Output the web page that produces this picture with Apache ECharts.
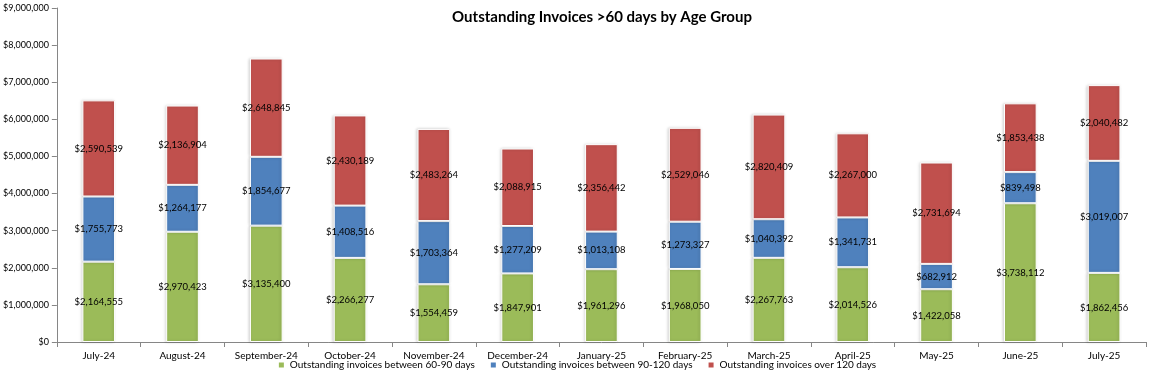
<!DOCTYPE html>
<html lang="en">
<head>
  <meta charset="UTF-8">
  <title>Outstanding Invoices</title>
  <style>
    html, body { margin: 0; padding: 0; background: #fff; }
    #chart { width: 1153px; height: 376px; }
  </style>
</head>
<body>
  <div id="chart"></div>
  <script src="https://cdn.jsdelivr.net/npm/echarts@6/dist/echarts.min.js"></script>
  <script>
    // data
    const months = ['July-24', 'August-24', 'September-24', 'October-24', 'November-24', 'December-24',
      'January-25', 'February-25', 'March-25', 'April-25', 'May-25', 'June-25', 'July-25'];
    const days60to90 = [2164555, 2970423, 3135400, 2266277, 1554459, 1847901, 1961296, 1968050, 2267763, 2014526, 1422058, 3738112, 1862456];
    const days90to120 = [1755773, 1264177, 1854677, 1408516, 1703364, 1277209, 1013108, 1273327, 1040392, 1341731, 682912, 839498, 3019007];
    const over120 = [2590539, 2136904, 2648845, 2430189, 2483264, 2088915, 2356442, 2529046, 2820409, 2267000, 2731694, 1853438, 2040482];

    const FONT = 'Lato, "Noto Sans", sans-serif';

    function money(v) {
      return '$' + Math.round(v).toString().replace(/\B(?=(\d{3})+(?!\d))/g, ',');
    }

    function makeSeries(name, data, color) {
      return {
        name: name,
        type: 'bar',
        stack: 'total',
        barWidth: '39%',
        data: data,
        itemStyle: {
          color: color,
          borderColor: '#ffffff',
          borderWidth: 1,
          shadowColor: 'rgba(0,0,0,0.18)',
          shadowBlur: 3,
          shadowOffsetX: -1
        },
        label: {
          show: true,
          position: 'inside',
          color: '#000',
          fontFamily: FONT,
          fontSize: 9.5,
          formatter: function (p) { return money(p.value); }
        }
      };
    }

    let chart = echarts.init(document.getElementById('chart'));
    let option = {
      animation: false,
      title: {
        text: 'Outstanding Invoices >60 days by Age Group',
        left: 597,
        textAlign: 'center',
        top: 5,
        textStyle: { fontFamily: FONT, fontSize: 15, fontWeight: 'bold', color: '#000' }
      },
      legend: {
        bottom: 1,
        left: 'center',
        itemWidth: 7,
        itemHeight: 7,
        itemGap: 14,
        icon: 'rect',
        textStyle: { fontFamily: FONT, fontSize: 10, color: '#000' },
        data: ['Outstanding invoices between 60-90 days', 'Outstanding invoices between 90-120 days', 'Outstanding invoices over 120 days']
      },
      grid: { left: 54, right: 7, top: 8, bottom: 34, containLabel: false },
      xAxis: {
        type: 'category',
        data: months,
        axisLine: { lineStyle: { color: '#868686' } },
        axisTick: { show: true, alignWithLabel: false, length: 5, lineStyle: { color: '#868686' } },
        axisLabel: { color: '#000', fontFamily: FONT, fontSize: 10, margin: 9, interval: 0 }
      },
      yAxis: {
        type: 'value',
        min: 0,
        max: 9000000,
        interval: 1000000,
        splitLine: { show: false },
        axisLine: { show: true, lineStyle: { color: '#868686' } },
        axisTick: { show: true, length: 5, lineStyle: { color: '#868686' } },
        axisLabel: { color: '#000', fontFamily: FONT, fontSize: 9, margin: 8, formatter: money }
      },
      series: [
        makeSeries('Outstanding invoices between 60-90 days', days60to90, '#9BBB59'),
        makeSeries('Outstanding invoices between 90-120 days', days90to120, '#4F81BD'),
        makeSeries('Outstanding invoices over 120 days', over120, '#C0504D')
      ]
    };
    chart.setOption(option);
  </script>
</body>
</html>
